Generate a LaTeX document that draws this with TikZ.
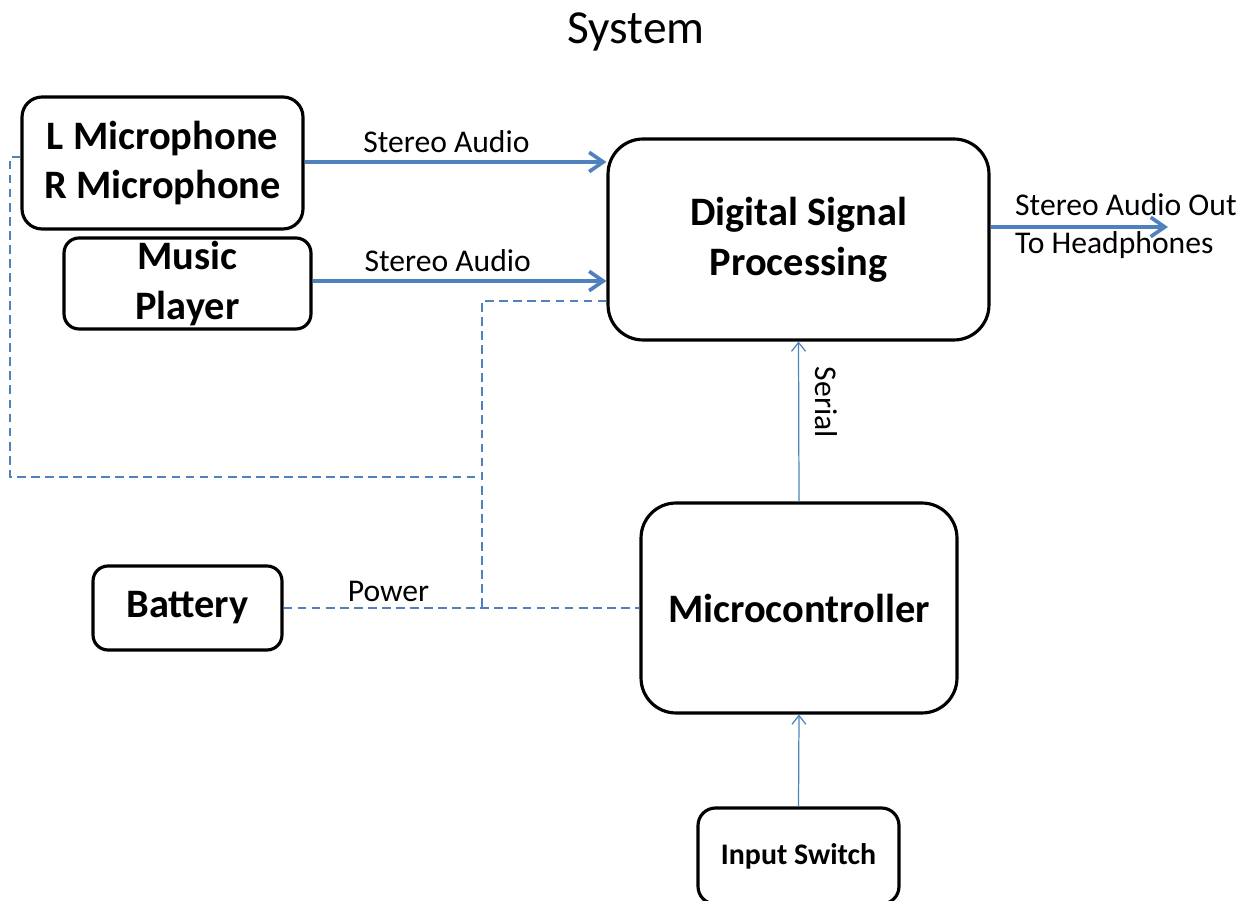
\documentclass[tikz,border=0pt]{standalone}
\usepackage{fontspec}
\setmainfont{Carlito}
\usetikzlibrary{positioning}
\usetikzlibrary{calc}
\usetikzlibrary{arrows.meta}

\definecolor{wireblue}{HTML}{4F81BD}

\begin{document}
\begin{tikzpicture}[x=0.02cm,y=-0.02cm,
        block/.style={draw,line width=1.8pt,align=center,inner sep=0pt,
            font=\fontsize{23}{28.3}\selectfont\bfseries},
        audio/.style={draw=wireblue,line width=2.1pt,
            -{Straight Barb[length=8pt,width=11pt]}},
        ctrl/.style={draw=wireblue,line width=0.7pt,
            -{Straight Barb[length=5pt,width=8pt]}},
        pwr/.style={draw=wireblue,line width=0.7pt,dash pattern=on 5pt off 3pt},
        lbl/.style={font=\fontsize{18}{21.5}\selectfont}]
    \clip (0,0) rectangle (1251,901);

    \node (title) at (636,32) {\fontsize{27}{32}\selectfont System};

    % the blocks
    \node[block,rounded corners=0.4cm,minimum width=5.62cm,minimum height=2.64cm]
        (mic) at (162.5,163) {L Microphone\\R Microphone};
    \node[block,rounded corners=0.3cm,minimum width=4.94cm,minimum height=1.82cm]
        (music) at (187.5,283.5) {Music\\Player};
    \node[block,rounded corners=0.7cm,minimum width=7.62cm,minimum height=4.02cm]
        (dsp) at (798.5,239.5) {Digital Signal\\Processing};
    \node[block,rounded corners=0.7cm,minimum width=6.32cm,minimum height=4.2cm]
        (mcu) at (799,608) {Microcontroller};
    \node[block,rounded corners=0.3cm,minimum width=3.78cm,minimum height=1.68cm]
        (battery) at (187.5,608) {Battery};
    \node[block,rounded corners=0.35cm,minimum width=4.02cm,minimum height=1.92cm,
        font=\fontsize{17}{20}\selectfont\bfseries]
        (switch) at (798.5,856) {Input Switch};

    % audio path
    \draw[audio] (mic.east |- 0,162) -- (dsp.west |- 0,162)
        node[lbl,pos=0.47,above=1pt] {Stereo Audio};
    \draw[audio] (music.east |- 0,281) -- (dsp.west |- 0,281)
        node[lbl,pos=0.46,above=1pt] {Stereo Audio};
    \coordinate (out) at (1168,227);
    \draw[audio] (out -| dsp.east) -- (out);
    \node[lbl,align=left,anchor=west] (outlbl) at (1009,226)
        {Stereo Audio Out\\To Headphones};

    % control
    \draw[ctrl] (mcu.north) -- (dsp.south)
        node[lbl,pos=0.62,anchor=south,rotate=-90,inner ysep=9pt] {Serial};
    \draw[ctrl] (switch.north) -- (mcu.south);

    % power rail
    \coordinate (lft) at (10,157);
    \coordinate (tap) at (482,301);
    \coordinate (j1) at (482,477);
    \coordinate (j2) at (482,608);
    \draw[pwr] (lft -| mic.west) -- (lft) |- (j1);
    \draw[pwr] (tap -| dsp.west) -- (tap) -- (j2);
    \draw[pwr] (battery.east) -- (mcu.west)
        node[lbl,pos=0.295,above=0pt] {Power};
\end{tikzpicture}
\end{document}
